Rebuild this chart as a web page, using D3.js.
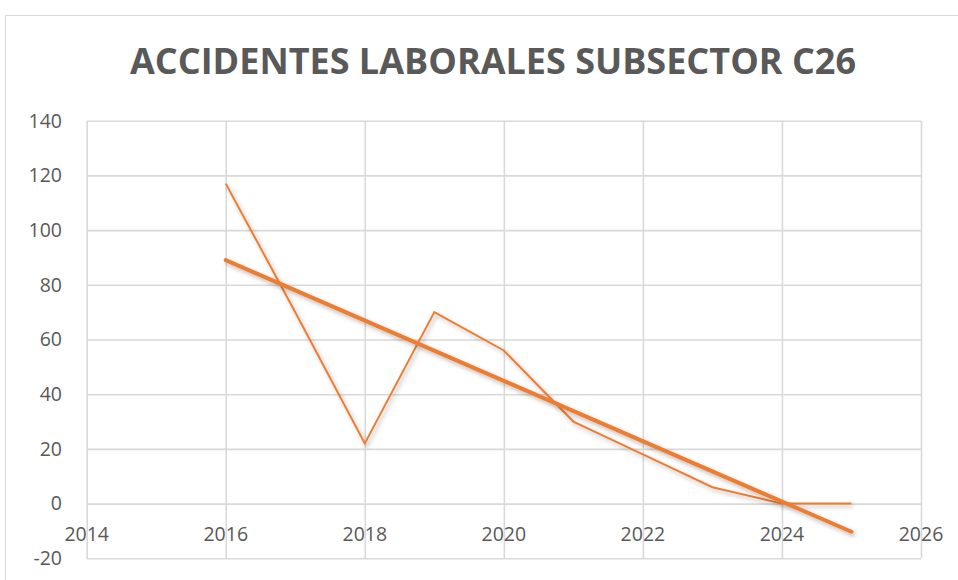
<!DOCTYPE html>
<html>
<head>
<meta charset="utf-8">
<script src="https://cdn.jsdelivr.net/npm/d3@7"></script>
<style>
  html, body { margin: 0; padding: 0; background: #ffffff; }
  svg { display: block; }
</style>
</head>
<body>
<svg id="chart" width="958" height="580"></svg>
<script>
// ---- data ----
const title = "ACCIDENTES LABORALES SUBSECTOR C26";
const years = [2016, 2017, 2018, 2019, 2020, 2021, 2022, 2023, 2024, 2025];
const accidents = [117, 70, 22, 70, 56, 30, 18, 6, 0, 0];
const trendYears = [2016, 2025];
const trendValues = [89, -10.3];
const xTicks = [2014, 2016, 2018, 2020, 2022, 2024, 2026];
const yTicks = [-20, 0, 20, 40, 60, 80, 100, 120, 140];

const svg = d3.select("#chart");
const font = "'Open Sans', 'Liberation Sans', sans-serif";
const gray = "#595959";
const grid = "#d9d9d9";
const orange = "#ED7D31";

// chart border
svg.append("rect")
  .attr("x", 5.5).attr("y", 15.5)
  .attr("width", 1000).attr("height", 700)
  .attr("fill", "#fff").attr("stroke", grid).attr("stroke-width", 1);

const x = d3.scaleLinear().domain([2014, 2026]).range([86.7, 921]);
const y = d3.scaleLinear().domain([-20, 140]).range([558.3, 120.7]);

// shadow filter
const defs = svg.append("defs");
const f = defs.append("filter").attr("id", "shadow")
  .attr("x", "-10%").attr("y", "-10%").attr("width", "130%").attr("height", "130%");
f.append("feDropShadow").attr("dx", 2).attr("dy", 2.5).attr("stdDeviation", 2)
  .attr("flood-color", "#000").attr("flood-opacity", 0.28);

// title
svg.append("text")
  .attr("x", 493).attr("y", 74)
  .attr("text-anchor", "middle")
  .attr("font-family", font).attr("font-weight", 700)
  .attr("font-size", 36)
  .attr("fill", gray)
  .attr("textLength", 726).attr("lengthAdjust", "spacingAndGlyphs")
  .text(title);

// gridlines via axes
const gY = svg.append("g").attr("transform", `translate(${x(2014)},0)`)
  .call(d3.axisLeft(y).tickValues(yTicks).tickSize(-(x(2026) - x(2014))).tickFormat(""));
gY.select(".domain").remove();
gY.selectAll("line").attr("stroke", grid).attr("stroke-width", 1.6);

const gX = svg.append("g").attr("transform", `translate(0,${y(-20)})`)
  .call(d3.axisBottom(x).tickValues(xTicks).tickSize(-(y(-20) - y(140))).tickFormat(""));
gX.select(".domain").remove();
gX.selectAll("line").attr("stroke", grid).attr("stroke-width", 1.6);

// y tick labels
svg.append("g").selectAll("text").data(yTicks).join("text")
  .attr("x", 62).attr("y", d => y(d))
  .attr("dy", "0.35em")
  .attr("text-anchor", "end")
  .attr("font-family", font).attr("font-size", 19.5)
  .attr("fill", gray)
  .text(d => d);

// x tick labels (axis crosses at 0)
svg.append("g").selectAll("text").data(xTicks).join("text")
  .attr("x", d => x(d)).attr("y", y(0) + 31)
  .attr("dy", "0.35em")
  .attr("text-anchor", "middle")
  .attr("font-family", font).attr("font-size", 19.5)
  .attr("fill", gray)
  .text(d => d);

// data line
const line = d3.line().x(d => x(d[0])).y(d => y(d[1]));
svg.append("path")
  .datum(years.map((yr, i) => [yr, accidents[i]]))
  .attr("d", line)
  .attr("fill", "none").attr("stroke", orange).attr("stroke-width", 2)
  .attr("stroke-linejoin", "miter")
  .attr("filter", "url(#shadow)");

// trend line
svg.append("path")
  .datum(trendYears.map((yr, i) => [yr, trendValues[i]]))
  .attr("d", line)
  .attr("fill", "none").attr("stroke", orange).attr("stroke-width", 4)
  .attr("stroke-linecap", "round")
  .attr("filter", "url(#shadow)");
</script>
</body>
</html>
